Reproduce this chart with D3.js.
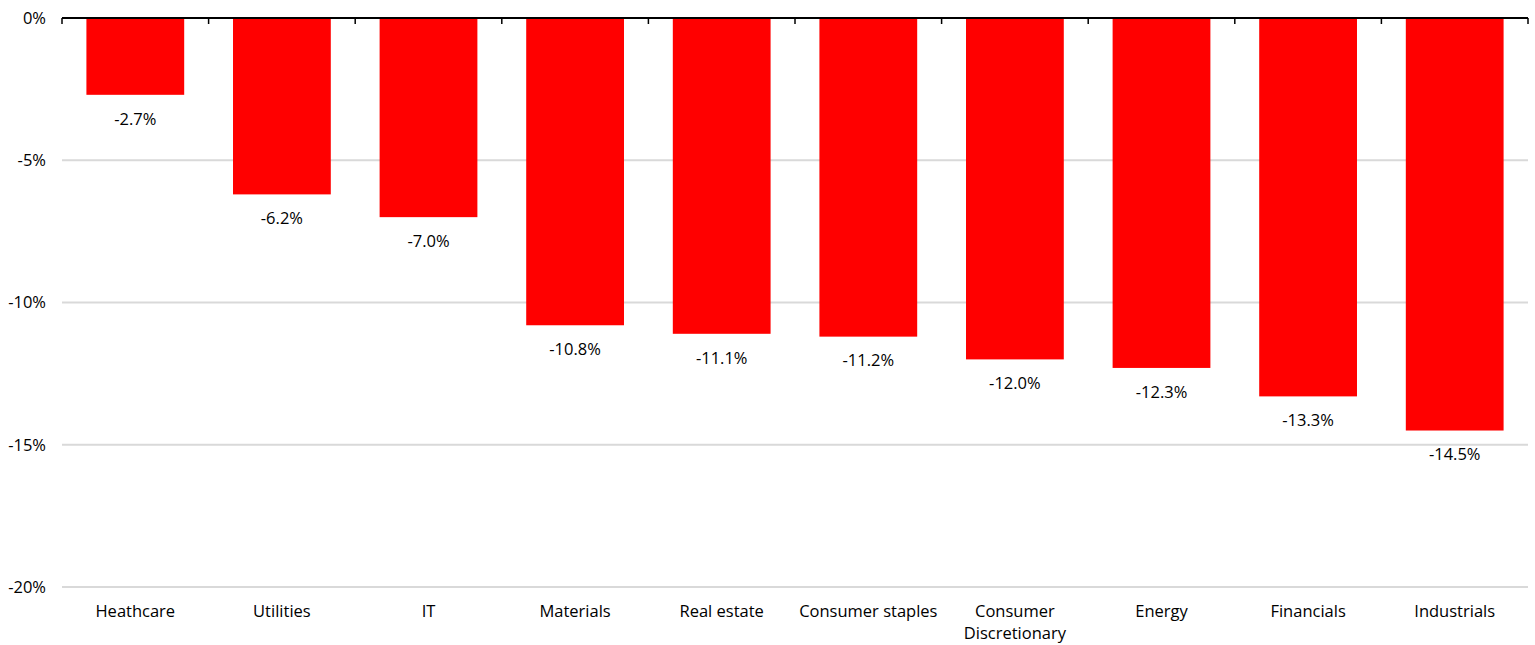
<!DOCTYPE html>
<html>
<head>
<meta charset="utf-8">
<script src="https://cdn.jsdelivr.net/npm/d3@7"></script>
<style>
  html, body { margin: 0; padding: 0; background: #fff; }
  svg { display: block; font-family: "Open Sans", "Noto Sans", sans-serif; }
</style>
</head>
<body>
<svg id="chart" width="1535" height="645"></svg>
<script>
// Sector returns (%)
const sectors = ["Heathcare", "Utilities", "IT", "Materials", "Real estate",
  "Consumer staples", "Consumer\nDiscretionary", "Energy", "Financials", "Industrials"];
const returns = [-2.7, -6.2, -7.0, -10.8, -11.1, -11.2, -12.0, -12.3, -13.3, -14.5];
const yTicks = [0, -5, -10, -15, -20];

const W = 1535, H = 645;
const margin = { top: 18, right: 7, bottom: 58, left: 62 };
const svg = d3.select("#chart");
const fontSize = 16.5;

const x = d3.scaleBand()
  .domain(sectors)
  .range([margin.left, W - margin.right])
  .paddingInner(0.333)
  .paddingOuter(0.1665);

const y = d3.scaleLinear()
  .domain([0, -20])
  .range([margin.top, H - margin.bottom]);

// Horizontal gridlines
svg.append("g")
  .selectAll("line")
  .data(yTicks.filter(d => d !== 0))
  .join("line")
  .attr("x1", margin.left)
  .attr("x2", W - margin.right)
  .attr("y1", d => y(d))
  .attr("y2", d => y(d))
  .attr("stroke", "#d9d9d9")
  .attr("stroke-width", 2);

// Y-axis labels
svg.append("g")
  .selectAll("text")
  .data(yTicks)
  .join("text")
  .attr("x", 46)
  .attr("y", d => y(d))
  .attr("dy", "0.35em")
  .attr("text-anchor", "end")
  .attr("font-size", fontSize)
  .attr("fill", "#000")
  .text(d => d + "%");

// Bars
svg.append("g")
  .selectAll("rect")
  .data(sectors)
  .join("rect")
  .attr("x", d => x(d))
  .attr("width", x.bandwidth())
  .attr("y", y(0))
  .attr("height", (d, i) => y(returns[i]) - y(0))
  .attr("fill", "#ff0000");

// Value labels under each bar
svg.append("g")
  .selectAll("text")
  .data(sectors)
  .join("text")
  .attr("x", d => x(d) + x.bandwidth() / 2)
  .attr("y", (d, i) => y(returns[i]) + 24)
  .attr("dy", "0.35em")
  .attr("text-anchor", "middle")
  .attr("font-size", fontSize)
  .attr("fill", "#000")
  .text((d, i) => returns[i].toFixed(1) + "%");

// Zero baseline with category tick marks
const step = x.step();
const boundaries = d3.range(sectors.length + 1).map(i => margin.left + i * step);
svg.append("line")
  .attr("x1", margin.left)
  .attr("x2", W - margin.right)
  .attr("y1", y(0))
  .attr("y2", y(0))
  .attr("stroke", "#000")
  .attr("stroke-width", 2);
svg.append("g")
  .selectAll("line")
  .data(boundaries)
  .join("line")
  .attr("x1", d => d)
  .attr("x2", d => d)
  .attr("y1", y(0))
  .attr("y2", y(0) + 6)
  .attr("stroke", "#000")
  .attr("stroke-width", 1.5);

// Category labels
const cat = svg.append("g")
  .selectAll("text")
  .data(sectors)
  .join("text")
  .attr("x", d => x(d) + x.bandwidth() / 2)
  .attr("y", 611)
  .attr("text-anchor", "middle")
  .attr("font-size", fontSize)
  .attr("fill", "#000");
cat.each(function(d) {
  const lines = d.split("\n");
  d3.select(this).selectAll("tspan")
    .data(lines)
    .join("tspan")
    .attr("x", x(d) + x.bandwidth() / 2)
    .attr("dy", (l, i) => i === 0 ? "0.35em" : "22px")
    .text(l => l);
});
</script>
</body>
</html>
